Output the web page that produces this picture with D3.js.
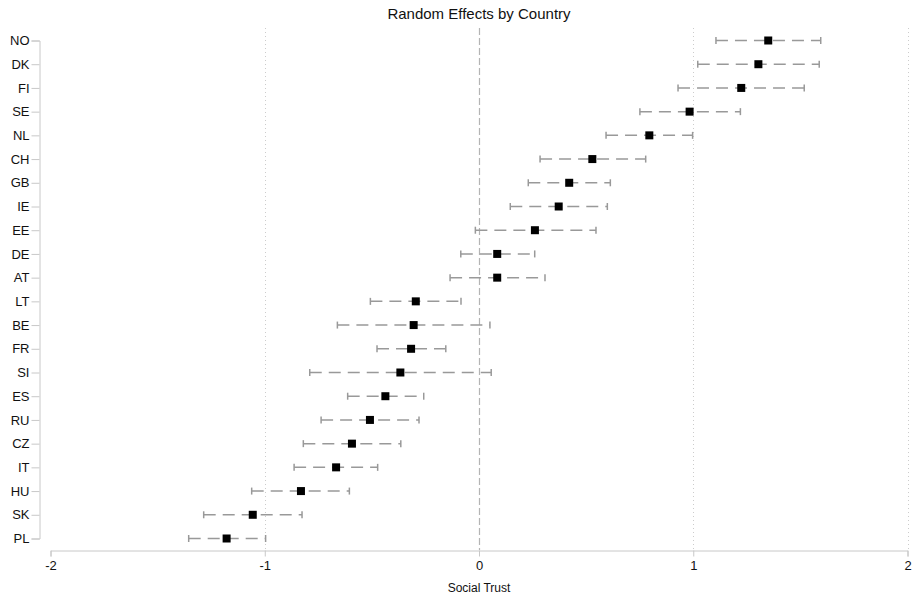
<!DOCTYPE html>
<html>
<head>
<meta charset="utf-8">
<script src="https://cdn.jsdelivr.net/npm/d3@7"></script>
<style>
  body { margin: 0; background: #fff; }
  svg { font-family: "Liberation Sans", Arial, sans-serif; }
</style>
</head>
<body>
<svg width="913" height="597"></svg>
<script>
// random effects (point estimate and interval) per country, top to bottom
var countries = ['NO', 'DK', 'FI', 'SE', 'NL', 'CH', 'GB', 'IE', 'EE', 'DE', 'AT',
  'LT', 'BE', 'FR', 'SI', 'ES', 'RU', 'CZ', 'IT', 'HU', 'SK', 'PL']
var estimate = [1.350, 1.304, 1.224, 0.983, 0.795, 0.529, 0.421, 0.372, 0.261, 0.085, 0.085,
  -0.295, -0.305, -0.317, -0.367, -0.437, -0.509, -0.593, -0.667, -0.831, -1.056, -1.178]
var lower = [1.106, 1.021, 0.929, 0.751, 0.593, 0.285, 0.230, 0.146, -0.017, -0.085, -0.135,
  -0.507, -0.661, -0.476, -0.790, -0.613, -0.737, -0.820, -0.863, -1.061, -1.285, -1.355]
var upper = [1.595, 1.588, 1.518, 1.220, 0.997, 0.778, 0.613, 0.599, 0.546, 0.260, 0.308,
  -0.084, 0.051, -0.155, 0.057, -0.258, -0.280, -0.365, -0.473, -0.605, -0.826, -0.996]
var xTicks = [-2, -1, 0, 1, 2]
var gridLines = [-1, 1, 2]

var rows = countries.map(function (c, i) {
  return { country: c, est: estimate[i], lo: lower[i], hi: upper[i] }
})

var svg = d3.select('svg')

var x = d3.scaleLinear().domain([-2, 2]).range([50.5, 907.5])
var y = d3.scalePoint().domain(countries).range([40.5, 538.5])

// title
svg.append('text')
  .attr('x', 479).attr('y', 19)
  .attr('text-anchor', 'middle')
  .attr('font-size', 15)
  .attr('fill', '#111')
  .text('Random Effects by Country')

// dotted grid lines
svg.append('g').selectAll('line')
  .data(gridLines)
  .join('line')
  .attr('x1', function (d) { return Math.round(x(d)) + 0.5 })
  .attr('x2', function (d) { return Math.round(x(d)) + 0.5 })
  .attr('y1', 28).attr('y2', 550)
  .attr('stroke', '#ccc')
  .attr('stroke-width', 1)
  .attr('stroke-dasharray', '1,3')

// zero reference line
svg.append('line')
  .attr('x1', Math.round(x(0)) + 0.5).attr('x2', Math.round(x(0)) + 0.5)
  .attr('y1', 28).attr('y2', 550)
  .attr('stroke', '#b4b4b4')
  .attr('stroke-width', 1.2)
  .attr('stroke-dasharray', '7,3')

// y axis
var gy = svg.append('g')
  .attr('transform', 'translate(39.5,0)')
  .call(d3.axisLeft(y).tickSizeOuter(0).tickSize(8).tickPadding(2))
gy.select('.domain').attr('stroke', '#c8c8c8')
gy.selectAll('.tick line').attr('stroke', '#c8c8c8')
gy.selectAll('.tick text')
  .attr('font-size', 13)
  .attr('font-family', '"Liberation Sans", Arial, sans-serif')
  .attr('fill', '#111')

// x axis (plain hyphen for negatives, as in the original)
var gx = svg.append('g')
  .attr('transform', 'translate(0,550.5)')
  .call(d3.axisBottom(x).tickValues(xTicks).tickFormat(function (d) { return String(d) })
    .tickSizeOuter(0).tickSize(6).tickPadding(4))
gx.select('.domain').attr('stroke', '#c8c8c8')
gx.selectAll('.tick line').attr('stroke', '#c8c8c8')
gx.selectAll('.tick text')
  .attr('font-size', 13)
  .attr('font-family', '"Liberation Sans", Arial, sans-serif')
  .attr('fill', '#111')

svg.append('text')
  .attr('x', 479).attr('y', 592)
  .attr('text-anchor', 'middle')
  .attr('font-size', 12)
  .attr('fill', '#111')
  .text('Social Trust')

// error bars
var bars = svg.append('g').selectAll('g')
  .data(rows)
  .join('g')

bars.append('line')
  .attr('x1', function (d) { return x(d.lo) })
  .attr('x2', function (d) { return x(d.hi) })
  .attr('y1', function (d) { return y(d.country) })
  .attr('y2', function (d) { return y(d.country) })
  .attr('stroke', '#999')
  .attr('stroke-width', 1.5)
  .attr('stroke-dasharray', '12,7')

bars.selectAll('.cap')
  .data(function (d) { return [{ v: d.lo, c: d.country }, { v: d.hi, c: d.country }] })
  .join('line')
  .attr('class', 'cap')
  .attr('x1', function (d) { return x(d.v) })
  .attr('x2', function (d) { return x(d.v) })
  .attr('y1', function (d) { return y(d.c) - 3.5 })
  .attr('y2', function (d) { return y(d.c) + 3.5 })
  .attr('stroke', '#999')
  .attr('stroke-width', 1.5)

// point estimates
svg.append('g').selectAll('rect')
  .data(rows)
  .join('rect')
  .attr('x', function (d) { return x(d.est) - 4 })
  .attr('y', function (d) { return y(d.country) - 4 })
  .attr('width', 8).attr('height', 8)
  .attr('fill', '#000')
</script>
</body>
</html>
